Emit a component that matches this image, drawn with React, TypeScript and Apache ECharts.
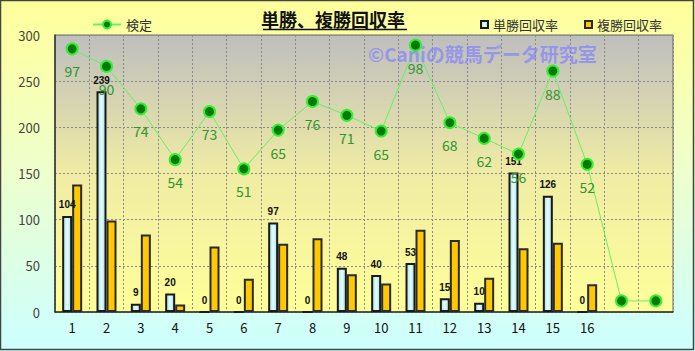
import React, { useEffect, useRef } from "react";
import * as echarts from "echarts";

const categories = ["1","2","3","4","5","6","7","8","9","10","11","12","13","14","15","16","",""];
const tanshoValues = [104,239,9,20,0,0,97,0,48,40,53,15,10,151,126,0];
const fukushoValues = [138,99,84,8,71,36,74,80,41,31,89,78,37,69,75,30];
const kenteiValues = [285,266,220,165,217,155,197,228,213,196,289,205,188,171,261,160,12,12];
const kenteiLabels = [97,90,74,54,73,51,65,76,71,65,98,68,62,56,88,52];
const yTicks = { min: 0, max: 300, interval: 50 };

export default function App() {
  const ref = useRef<HTMLDivElement>(null);
  useEffect(() => {
    document.body.style.margin = "0";
    const chart = echarts.init(ref.current!, null, { renderer: "svg" });
    const font = "'Noto Sans CJK JP', 'Noto Sans', sans-serif";
    chart.setOption({
      animation: false,
      backgroundColor: new echarts.graphic.LinearGradient(0, 0, 0, 1, [
        { offset: 0, color: "#FFFF99" },
        { offset: 0.45, color: "#F0FFC8" },
        { offset: 1, color: "#CCFFFF" },
      ]),
      textStyle: { fontFamily: font },
      graphic: [
        { type: "rect", shape: { x: 0.5, y: 0.5, width: 693, height: 349 }, style: { fill: "none", stroke: "#444", lineWidth: 1.5 }, silent: true },
        { type: "text", x: 333, y: 19, style: { text: "単勝、複勝回収率", font: `bold 18px ${font}`, fill: "#111", textAlign: "center", textVerticalAlign: "middle" } },
        { type: "line", shape: { x1: 263, y1: 29.5, x2: 407, y2: 29.5 }, style: { stroke: "#111", lineWidth: 1.5 } },
        { type: "text", x: 368, y: 53, z: 100, style: { text: "©Caniの競馬データ研究室", font: `bold 19px ${font}`, fill: "rgba(130,130,255,0.7)", textVerticalAlign: "middle" } },
      ],
      legend: [
        {
          data: ["検定"], left: 87, top: 13, itemWidth: 28, itemHeight: 10,
          textStyle: { fontSize: 13, color: "#333", fontFamily: font },
        },
        {
          data: [
            { name: "単勝回収率", icon: "rect" },
            { name: "複勝回収率", icon: "rect" },
          ],
          left: 475, top: 13, itemWidth: 7, itemHeight: 7, itemGap: 26,
          textStyle: { fontSize: 13, color: "#333", fontFamily: font },
        },
      ],
      grid: {
        left: 55, right: 22, top: 35, bottom: 39, show: true,
        backgroundColor: new echarts.graphic.LinearGradient(0, 0, 0, 1, [
          { offset: 0, color: "#BEBEBE" },
          { offset: 0.5, color: "#F0ECA4" },
          { offset: 1, color: "#FFFF99" },
        ]),
        borderColor: "#666", borderWidth: 1,
      },
      xAxis: {
        type: "category", data: categories,
        axisTick: { show: false },
        axisLine: { lineStyle: { color: "#333", width: 1.5 } },
        axisLabel: { color: "#111", fontSize: 13, margin: 9, fontFamily: font, interval: 0 },
        splitLine: { show: true, interval: 0, lineStyle: { color: "#8a8a8a", type: [2, 2], width: 1 } },
      },
      yAxis: {
        type: "value", ...yTicks,
        axisLine: { show: true, lineStyle: { color: "#333", width: 1.5 } },
        axisTick: { show: false },
        axisLabel: { color: "#444", fontSize: 13, margin: 15, fontFamily: font },
        splitLine: { lineStyle: { color: "#8a8a8a", type: [2, 2], width: 1 } },
      },
      series: [
        {
          name: "単勝回収率", type: "bar", data: tanshoValues, barWidth: 10, barGap: "0%",
          itemStyle: {
            color: new echarts.graphic.LinearGradient(0, 0, 1, 0, [
              { offset: 0, color: "#A6DCE4" },
              { offset: 0.5, color: "#E4FFFF" },
              { offset: 1, color: "#A6DCE4" },
            ]),
            borderColor: "#1a1a1a", borderWidth: 2,
          },
          label: { show: true, position: "top", distance: 6, color: "#111", fontSize: 10, fontWeight: "bold", fontFamily: "Arial, 'Liberation Sans', sans-serif" },
        },
        {
          name: "複勝回収率", type: "bar", data: fukushoValues, barWidth: 10,
          itemStyle: { color: "#FFC800", borderColor: "#2a2a2a", borderWidth: 2 },
        },
        {
          name: "検定", type: "line", data: kenteiValues, symbol: "circle", symbolSize: 11, z: 10,
          lineStyle: { color: "#66F066", width: 1 },
          itemStyle: { color: "#007A00", borderColor: "#33EE33", borderWidth: 2 },
          label: {
            show: true, position: "bottom", distance: 9, color: "#2E962E", fontSize: 14, fontFamily: font,
            formatter: (p: any) => (kenteiLabels[p.dataIndex] !== undefined ? String(kenteiLabels[p.dataIndex]) : ""),
          },
        },
      ],
    });
    return () => chart.dispose();
  }, []);
  return <div ref={ref} style={{ width: 695, height: 351 }} />;
}
